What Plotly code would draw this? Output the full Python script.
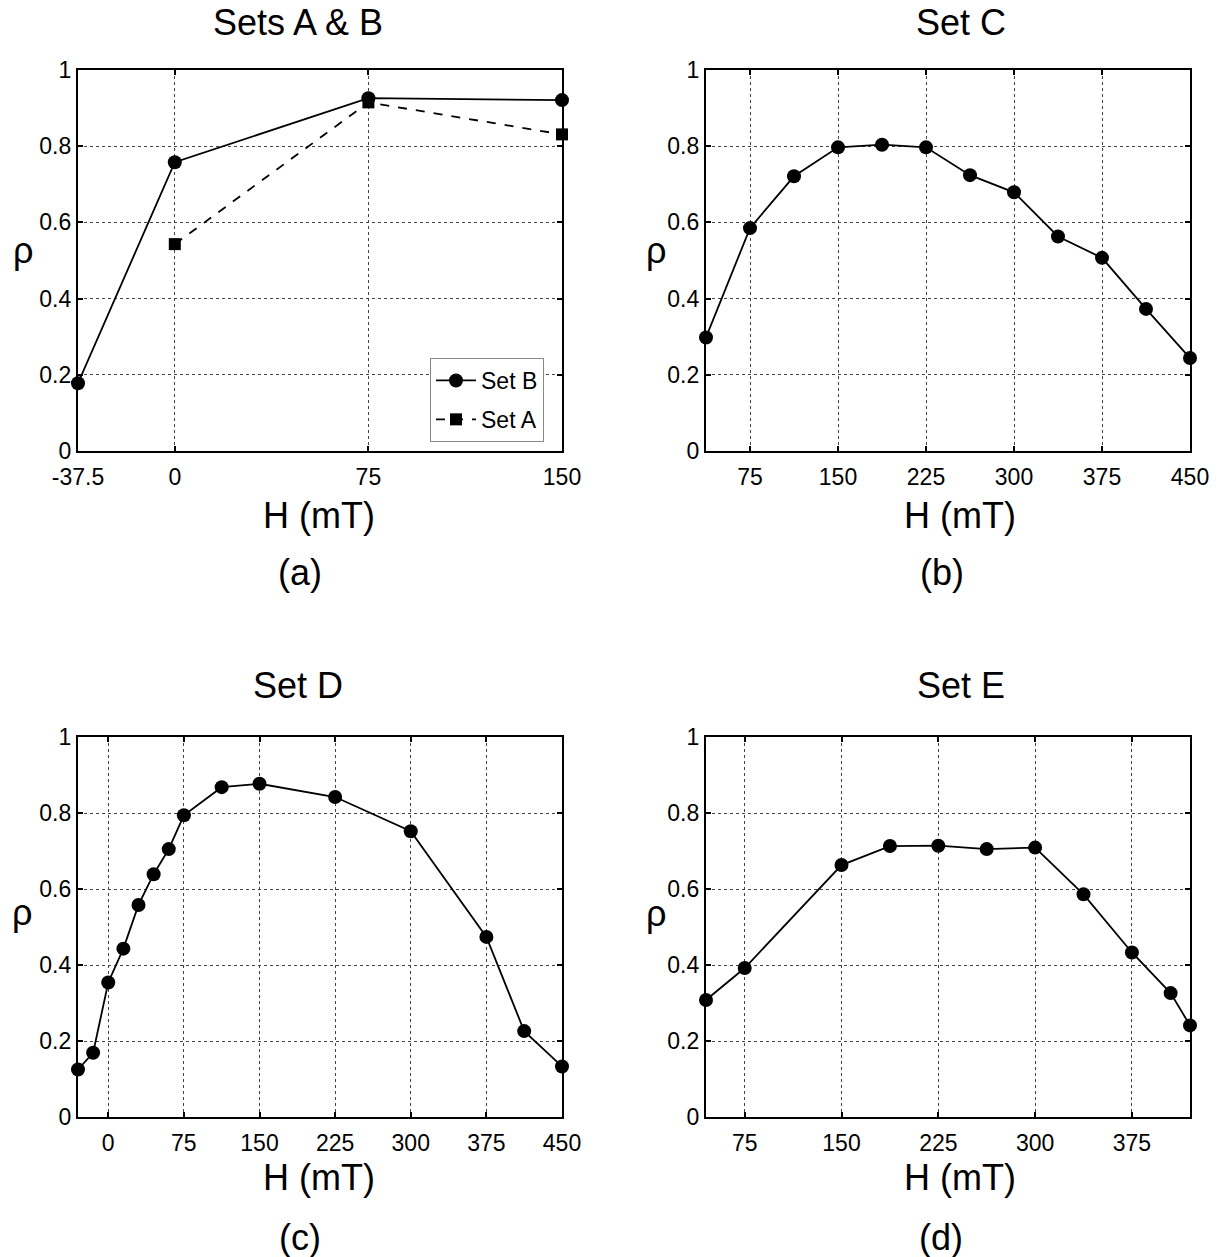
import plotly.graph_objects as go

# ---------------- data ----------------
# Panel (a): Sets A & B
setB_H = [-37.5, 0, 75, 150]
setB_rho = [0.178, 0.758, 0.926, 0.921]
setA_H = [0, 75, 150]
setA_rho = [0.543, 0.915, 0.831]

# Panel (b): Set C
setC_H = [37.5, 75, 112.5, 150, 187.5, 225, 262.5, 300, 337.5, 375, 412.5, 450]
setC_rho = [0.298, 0.585, 0.721, 0.797, 0.804, 0.797, 0.724, 0.679, 0.563, 0.507, 0.373, 0.244]

# Panel (c): Set D
setD_H = [-30, -15, 0, 15, 30, 45, 60, 75, 112.5, 150, 225, 300, 375, 412.5, 450]
setD_rho = [0.125, 0.169, 0.354, 0.443, 0.558, 0.639, 0.705, 0.794, 0.868, 0.877,
            0.842, 0.752, 0.474, 0.226, 0.133]

# Panel (d): Set E
setE_H = [45, 75, 150, 187.5, 225, 262.5, 300, 337.5, 375, 405, 420]
setE_rho = [0.308, 0.392, 0.663, 0.713, 0.714, 0.705, 0.709, 0.586, 0.433, 0.326, 0.241]

# tick labels
y_ticks = [0, 0.2, 0.4, 0.6, 0.8, 1]
y_ticktext = ["0", "0.2", "0.4", "0.6", "0.8", "1"]
a_xticks = [-37.5, 0, 75, 150]
a_xticktext = ["-37.5", "0", "75", "150"]
b_xticks = [75, 150, 225, 300, 375, 450]
c_xticks = [0, 75, 150, 225, 300, 375, 450]
d_xticks = [75, 150, 225, 300, 375]

titles = ["Sets A & B", "Set C", "Set D", "Set E"]
sublabels = ["(a)", "(b)", "(c)", "(d)"]
x_title = "H (mT)"
y_title = "ρ"

# ---------------- layout geometry ----------------
W, H = 1220, 1257
FONT = "Liberation Sans, Arial, Helvetica, sans-serif"


def px_x(p):
    return p / W


def px_y(p):
    return 1 - p / H


col_dom = [[px_x(78), px_x(562)], [px_x(706), px_x(1190)]]
row_dom = [[px_y(451), px_y(70)], [px_y(1117), px_y(737)]]

fig = go.Figure()


def add_series(x, y, xa, ya, name, symbol="circle", dash="solid", size=14, showlegend=False):
    fig.add_trace(go.Scatter(
        x=x, y=y, xaxis=xa, yaxis=ya, mode="lines+markers", name=name,
        line=dict(color="black", width=1.8, dash=dash),
        marker=dict(symbol=symbol, size=size, color="black"),
        cliponaxis=False, showlegend=showlegend, legendgroup=name,
    ))


add_series(setB_H, setB_rho, "x", "y", "Set B", "circle", "solid", 14, True)
add_series(setA_H, setA_rho, "x", "y", "Set A", "square", "dash", 12, True)
add_series(setC_H, setC_rho, "x2", "y2", "Set C")
add_series(setD_H, setD_rho, "x3", "y3", "Set D")
add_series(setE_H, setE_rho, "x4", "y4", "Set E")

axis_common = dict(
    showline=True, linecolor="black", linewidth=2.4, mirror="ticks",
    ticks="inside", ticklen=5, tickwidth=1.5, tickcolor="black",
    showgrid=True, gridcolor="#444444", gridwidth=1, griddash="dot",
    zeroline=False, tickfont=dict(family=FONT, size=23, color="black"),
    fixedrange=True, automargin=False,
)

xranges = [[-37.5, 150], [37.5, 450], [-30, 450], [45, 420]]
xtickv = [a_xticks, b_xticks, c_xticks, d_xticks]
xtickt = [a_xticktext, [str(v) for v in b_xticks], [str(v) for v in c_xticks], [str(v) for v in d_xticks]]

layout = dict(
    width=W, height=H, autosize=False,
    margin=dict(l=0, r=0, t=0, b=0, pad=0, autoexpand=False),
    paper_bgcolor="white", plot_bgcolor="white",
    font=dict(family=FONT, color="black"),
    showlegend=True,
    legend=dict(
        x=px_x(430), y=px_y(358), xanchor="left", yanchor="top",
        bgcolor="white", bordercolor="#888888", borderwidth=1,
        font=dict(family=FONT, size=23, color="black"),
        tracegroupgap=6, itemwidth=40,
    ),
)

for i in range(4):
    r, c = divmod(i, 2)
    suffix = "" if i == 0 else str(i + 1)
    layout["xaxis" + suffix] = dict(
        axis_common, domain=col_dom[c], anchor="y" + suffix, range=xranges[i],
        tickmode="array", tickvals=xtickv[i], ticktext=xtickt[i],
        ticklabelstandoff=4,
    )
    layout["yaxis" + suffix] = dict(
        axis_common, domain=row_dom[r], anchor="x" + suffix, range=[0, 1],
        tickmode="array", tickvals=y_ticks, ticktext=y_ticktext,
    )

fig.update_layout(**layout)

# annotations: titles, axis labels, sub-labels
title_pos = [(298, 22), (961, 22), (298, 685), (961, 685)]
xlab_pos = [(319, 515), (960, 515), (319, 1177), (960, 1177)]
sub_pos = [(300, 572), (942, 572), (300, 1237), (941, 1237)]
ylab_pos = [(23, 250), (656, 250), (22, 912), (656, 913)]

for i in range(4):
    tx, ty = title_pos[i]
    fig.add_annotation(text=titles[i], x=px_x(tx), y=px_y(ty), xref="paper", yref="paper",
                       showarrow=False, xanchor="center", yanchor="middle",
                       font=dict(family=FONT, size=36, color="black"))
    lx, ly = xlab_pos[i]
    fig.add_annotation(text=x_title, x=px_x(lx), y=px_y(ly), xref="paper", yref="paper",
                       showarrow=False, xanchor="center", yanchor="middle",
                       font=dict(family=FONT, size=36, color="black"))
    sx, sy = sub_pos[i]
    fig.add_annotation(text=sublabels[i], x=px_x(sx), y=px_y(sy), xref="paper", yref="paper",
                       showarrow=False, xanchor="center", yanchor="middle",
                       font=dict(family=FONT, size=36, color="black"))
    yx, yy = ylab_pos[i]
    fig.add_annotation(text=y_title, x=px_x(yx), y=px_y(yy), xref="paper", yref="paper",
                       showarrow=False, xanchor="center", yanchor="middle",
                       font=dict(family=FONT, size=36, color="black"))

fig.write_html("out.html", config={"responsive": False})
